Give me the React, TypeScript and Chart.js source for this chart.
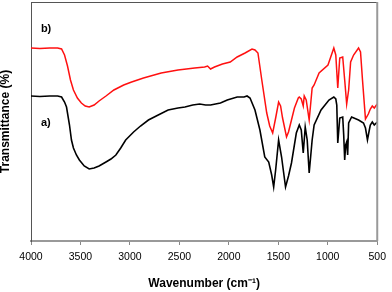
import React, { useEffect, useRef } from 'react';
import { Chart, registerables } from 'chart.js';

Chart.register(...registerables);

// Sample b) (red)
const wavenumbersB = [4000, 3910, 3811, 3731, 3691, 3661, 3631, 3601, 3571, 3531, 3491, 3452, 3412, 3362, 3312, 3242, 3162, 3063, 2983, 2863, 2684, 2514, 2345, 2245, 2215, 2185, 2145, 2065, 1986, 1916, 1836, 1766, 1736, 1706, 1667, 1617, 1587, 1557, 1527, 1497, 1477, 1457, 1417, 1397, 1367, 1337, 1298, 1288, 1268, 1248, 1238, 1218, 1188, 1158, 1138, 1088, 998, 939, 919, 899, 879, 849, 829, 809, 789, 769, 739, 689, 669, 649, 619, 590, 570, 550, 530, 500];
const transmittanceB = [193, 192.5, 193, 193, 192, 186, 175, 161, 151, 143, 138, 135, 134, 136, 140, 145, 151, 156, 159, 163, 168, 171, 173, 174, 175, 172, 174, 177, 179, 184, 188, 192, 191, 188, 161, 128, 115, 108, 123, 139, 135, 123, 104, 109, 121, 133, 143, 144, 142, 135, 145, 141, 121, 153, 156, 168, 176, 193, 186, 153, 183, 184, 161, 137, 151, 179, 186, 193, 189, 161, 122, 127, 132, 135, 133, 137];

// Sample a) (black)
const wavenumbersA = [4000, 3910, 3811, 3731, 3691, 3661, 3641, 3611, 3591, 3571, 3541, 3511, 3462, 3412, 3362, 3312, 3242, 3192, 3142, 3093, 3043, 2963, 2893, 2813, 2714, 2614, 2514, 2444, 2365, 2295, 2235, 2185, 2135, 2085, 2016, 1916, 1846, 1816, 1786, 1736, 1686, 1637, 1597, 1567, 1547, 1527, 1497, 1467, 1447, 1427, 1397, 1367, 1318, 1288, 1268, 1248, 1228, 1208, 1188, 1158, 1138, 1068, 988, 939, 919, 909, 899, 879, 849, 839, 829, 819, 809, 799, 789, 759, 689, 639, 619, 599, 580, 570, 550, 530, 500];
const transmittanceA = [145, 144.5, 145, 145, 144, 139, 134, 116, 101, 93, 86, 81, 75, 72, 73, 75, 79, 82, 86, 93, 101, 109, 115, 121, 126, 131, 133, 134, 136, 137, 136, 136, 137, 138, 141, 144, 144, 145, 143, 131, 111, 84, 79, 66, 54, 71, 101, 84, 69, 54, 65, 78, 108, 116, 111, 88, 114, 101, 68, 101, 116, 131, 141, 144, 142, 136, 98, 123, 124, 106, 81, 96, 99, 86, 118, 124, 121, 118, 113, 101, 111, 116, 119, 116, 119];

const xTicks = [4000, 3500, 3000, 2500, 2000, 1500, 1000, 500];

const seriesLabels = ['b)', 'a)'];
const labelWavenumbers = [3900, 3900];
const labelValues = [212, 118];

const FONT = "'Liberation Sans', Arial, Helvetica, sans-serif";

const frameAndLabels = {
  id: 'frameAndLabels',
  afterDatasetsDraw(chart: any) {
    const { ctx, scales } = chart;
    ctx.save();
    ctx.fillStyle = '#000';
    ctx.font = `bold 11px ${FONT}`;
    ctx.textAlign = 'left';
    ctx.textBaseline = 'middle';
    seriesLabels.forEach((t, i) => {
      ctx.fillText(t, scales.x.getPixelForValue(labelWavenumbers[i]), scales.y.getPixelForValue(labelValues[i]));
    });
    ctx.restore();
  },
  afterDraw(chart: any) {
    const { ctx, chartArea } = chart;
    ctx.save();
    ctx.strokeStyle = '#555';
    ctx.lineWidth = 1;
    ctx.beginPath();
    ctx.moveTo(chartArea.left, chartArea.top + 0.5);
    ctx.lineTo(chartArea.right, chartArea.top + 0.5);
    ctx.stroke();
    ctx.strokeStyle = '#999';
    ctx.lineWidth = 2;
    ctx.beginPath();
    ctx.moveTo(chartArea.right, chartArea.top);
    ctx.lineTo(chartArea.right, chartArea.bottom);
    ctx.stroke();
    ctx.restore();
  },
};

export default function App() {
  const ref = useRef<HTMLCanvasElement>(null);
  useEffect(() => {
    if (!ref.current) return;
    const chart = new Chart(ref.current, {
      type: 'line',
      data: {
        datasets: [
          {
            label: 'b)',
            data: wavenumbersB.map((w, i) => ({ x: w, y: transmittanceB[i] })),
            borderColor: '#ff1010',
            borderWidth: 1.5,
            pointRadius: 0,
            tension: 0,
            fill: false,
          },
          {
            label: 'a)',
            data: wavenumbersA.map((w, i) => ({ x: w, y: transmittanceA[i] })),
            borderColor: '#000000',
            borderWidth: 1.6,
            pointRadius: 0,
            tension: 0,
            fill: false,
          },
        ],
      },
      options: {
        animation: false,
        responsive: false,
        devicePixelRatio: 1,
        layout: { padding: { top: 2, right: 10, left: 0, bottom: 0 } },
        plugins: { legend: { display: false }, tooltip: { enabled: false } },
        scales: {
          x: {
            type: 'linear',
            reverse: true,
            min: 500,
            max: 4000,
            afterFit: (s: any) => { s.height = 51; },
            afterBuildTicks: (s: any) => { s.ticks = xTicks.map((v) => ({ value: v })); },
            ticks: {
              color: '#000',
              font: { family: FONT, size: 10.5 },
              padding: 6,
              maxRotation: 0,
              autoSkip: false,
              callback: (v: any) => String(v),
            },
            grid: { display: true, drawOnChartArea: false, drawTicks: true, tickLength: 4, color: '#888' },
            border: { display: true, color: '#999', width: 2 },
            title: {
              display: true,
              text: 'Wavenumber (cm⁻¹)',
              color: '#000',
              font: { family: FONT, size: 12, weight: 'bold', lineHeight: 1 },
              padding: { top: 0, bottom: 2 },
            },
          },
          y: {
            type: 'linear',
            min: 0,
            max: 239,
            afterFit: (s: any) => { s.width = 31; },
            ticks: { display: false },
            grid: { display: false },
            border: { display: true, color: '#555', width: 1 },
            title: {
              display: true,
              text: 'Transmittance (%)',
              color: '#000',
              font: { family: FONT, size: 12, weight: 'bold', lineHeight: 1 },
              padding: { top: 0, bottom: 0 },
            },
          },
        },
      },
      plugins: [frameAndLabels],
    } as any);
    return () => chart.destroy();
  }, []);
  return (
    <div style={{ position: 'absolute', left: 0, top: 0, width: 392, height: 292, background: '#fff' }}>
      <canvas ref={ref} width={392} height={292} />
    </div>
  );
}
